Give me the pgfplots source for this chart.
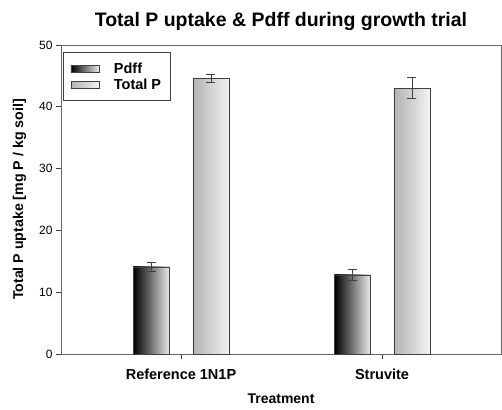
\documentclass[border=0pt]{standalone}
\usepackage{pgfplots}
\pgfplotsset{compat=1.18}
\usepackage{fontspec}
\setmainfont{Liberation Sans}
\begin{document}
\begin{tikzpicture}[x=1pt,y=1pt]
\begin{axis}[
  at={(0,0)}, anchor=south west,
  scale only axis, width=440pt, height=309pt,
  xmin=-0.597, xmax=1.592, ymin=0, ymax=50,
  xtick={0,1}, xticklabels={Reference 1N1P, Struvite},
  ytick={0,10,20,30,40,50},
  tick align=outside, major tick length=5pt,
  xtick pos=bottom, ytick pos=left,
  tick style={black!75, line width=0.6pt},
  axis line style={black!60, line width=0.8pt},
  x tick label style={font=\bfseries\fontsize{14.5}{16}\selectfont, yshift=-6pt},
  y tick label style={font=\fontsize{12}{14}\selectfont},
  /pgf/number format/assume math mode=true,
  xlabel={\bfseries Treatment},
  ylabel={\bfseries Total P uptake [mg P / kg soil]},
  xlabel style={font=\fontsize{14}{16}\selectfont, yshift=-8pt},
  ylabel style={font=\fontsize{14.2}{16}\selectfont, yshift=6pt},
  title={\bfseries Total P uptake \& Pdff during growth trial},
  title style={font=\fontsize{19.5}{22}\selectfont, yshift=5pt},
  ybar, bar width=0.18, bar shift=0pt,
  legend style={at={(0.005,0.977)}, anchor=north west, draw=black!75,
    line width=0.8pt,
    font=\bfseries\fontsize{14.5}{16}\selectfont, inner xsep=7pt, inner ysep=8pt,
    row sep=0pt},
  legend cell align=left,
  legend image code/.code={\draw[#1] (0pt,-3.5pt) rectangle (28pt,3.5pt);
    \path[draw=none] (0pt,0pt) -- (41pt,0pt);},
  error bars/y dir=both, error bars/y explicit,
  error bars/error bar style={black!75, line width=0.7pt},
  error bars/error mark options={rotate=90, mark size=4.5pt, black!75, line width=0.7pt},
]
\addplot[draw=black!75, line width=0.6pt, left color=black, right color=black!8]
  coordinates {(-0.147,14.1) +- (0,0.7)};
\addplot[draw=black!75, line width=0.6pt, left color=black!30, right color=black!5]
  coordinates {(0.149,44.6) +- (0,0.65)};
\addplot[forget plot, draw=black!75, line width=0.6pt, left color=black, right color=black!8]
  coordinates {(0.853,12.8) +- (0,0.85)};
\addplot[forget plot, draw=black!75, line width=0.6pt, left color=black!30, right color=black!5]
  coordinates {(1.149,43.0) +- (0,1.7)};
\legend{Pdff, Total P}
\end{axis}
\pgfresetboundingbox
\path[use as bounding box] (-61,-55) rectangle (441,354);
\end{tikzpicture}
\end{document}
